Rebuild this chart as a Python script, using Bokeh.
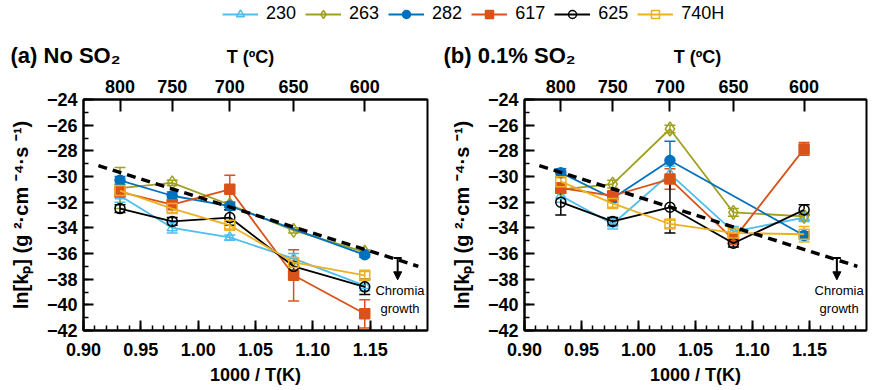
from bokeh.plotting import figure
from bokeh.layouts import column, row
from bokeh.models import (LinearAxis, FixedTicker, Range1d, ColumnDataSource, Whisker,
                          TeeHead, Arrow, NormalHead, Label, Legend, LegendItem,
                          SingleIntervalTicker, NumeralTickFormatter, CustomJSTickFormatter)
from bokeh.embed import file_html
from bokeh.resources import INLINE

# ---------------- data ----------------
TEMPS_C = [800, 750, 700, 650, 600]
ALLOYS = ["230", "263", "282", "617", "625", "740H"]

# (a) No SO2 : ln[kp]
A_230 = [-31.5, -34.0, -34.75, -36.4, -38.5]
A_263 = [-30.9, -30.5, -32.2, -34.2, -35.9]
A_282 = [-30.3, -31.5, -32.3, None, -36.1]
A_617 = [-31.2, -32.2, -31.0, -37.7, -40.7]
A_625 = [-32.5, -33.5, -33.2, -37.0, -38.6]
A_740H = [-31.1, -32.5, -33.8, -36.7, -37.7]
# (a) error bars (half widths)
EA_230 = [0.5, 0.4, 0.2, 0.4, 0.4]
EA_263 = [1.6, 0.2, 0.2, 0.2, 0.2]
EA_282 = [0.3, 0.3, 0.3, None, 0.2]
EA_617 = [0.3, 0.3, 1.1, 2.0, 1.1]
EA_625 = [0.3, 0.3, 0.6, 0.3, 0.6]
EA_740H = [0.3, 0.3, 0.3, 0.3, 0.3]

# (b) 0.1% SO2 : ln[kp]
B_230 = [-31.5, -33.7, -29.8, -34.3, -33.2]
B_263 = [-31.0, -30.6, -26.3, -32.8, -33.1]
B_282 = [-29.7, -31.7, -28.75, None, -34.6]
B_617 = [-30.9, -31.5, -30.2, -34.9, -27.85]
B_625 = [-32.0, -33.5, -32.4, -35.2, -32.6]
B_740H = [-30.4, -32.1, -33.7, -34.4, -34.5]
EB_230 = [0.5, 0.4, 0.6, 0.4, 0.3]
EB_263 = [0.3, 0.3, 0.3, 0.3, 0.3]
EB_282 = [0.3, 0.3, 1.5, None, 0.3]
EB_617 = [0.4, 0.3, 0.8, 0.4, 0.5]
EB_625 = [1.0, 0.3, 2.0, 0.3, 0.4]
EB_740H = [0.3, 0.3, 0.3, 0.3, 0.6]

# chromia-growth reference line (1000/T, ln kp)
CHROMIA_X = [0.913, 1.192]
CHROMIA_Y = [-29.15, -37.0]
ARROW_X = 1.174
ARROW_Y = [-36.35, -38.05]
CHROMIA_TEXT_XY = (1.176, -39.55)

PANEL_A = dict(zip(ALLOYS, [A_230, A_263, A_282, A_617, A_625, A_740H]))
ERR_A = dict(zip(ALLOYS, [EA_230, EA_263, EA_282, EA_617, EA_625, EA_740H]))
PANEL_B = dict(zip(ALLOYS, [B_230, B_263, B_282, B_617, B_625, B_740H]))
ERR_B = dict(zip(ALLOYS, [EB_230, EB_263, EB_282, EB_617, EB_625, EB_740H]))

# ---------------- styles ----------------
STYLE = {
    "230": dict(color="#4DBEEE", marker="triangle", fill=False, size=10),
    "263": dict(color="#A0A020", marker="diamond", fill=False, size=14),
    "282": dict(color="#0072BD", marker="circle", fill=True, size=10),
    "617": dict(color="#D95319", marker="square", fill=True, size=10),
    "625": dict(color="#000000", marker="circle", fill=False, size=10),
    "740H": dict(color="#EDB120", marker="square", fill=False, size=10),
}
FONT = "Liberation Sans"
INV_T = [1000.0 / (t + 273.15) for t in TEMPS_C]

STRIP_H = 68


def make_panel(vals, errs, width, bl, br):
    p = figure(width=width, height=390 - STRIP_H, output_backend="svg", toolbar_location=None,
               x_range=Range1d(0.90, 1.20), y_range=Range1d(-42, -24),
               min_border_left=bl, min_border_right=br, min_border_top=99 - STRIP_H,
               min_border_bottom=60)
    p.xgrid.visible = False
    p.ygrid.visible = False
    p.outline_line_color = "black"
    p.outline_line_width = 2
    p.outline_line_alpha = 1

    xa = p.xaxis[0]
    xa.ticker = SingleIntervalTicker(interval=0.05, num_minor_ticks=5)
    xa.formatter = NumeralTickFormatter(format="0.00")
    xa.axis_label = "1000 / T(K)"
    ya = p.yaxis[0]
    ya.ticker = SingleIntervalTicker(interval=2, num_minor_ticks=2)
    ya.axis_label = "ln[kₚ] (g ²·cm ⁻⁴·s ⁻¹)"

    top = LinearAxis(ticker=FixedTicker(ticks=INV_T),
                     formatter=CustomJSTickFormatter(code="return String(Math.round(1000/tick - 273.15));"))
    p.add_layout(top, "above")

    for ax in (xa, ya, top):
        ax.axis_line_width = 2
        ax.major_tick_line_width = 2
        ax.minor_tick_line_width = 1.5
        ax.major_tick_out = 0
        ax.minor_tick_out = 0
        ax.major_tick_in = 10
        ax.minor_tick_in = 5
        ax.major_label_text_font = FONT
        ax.major_label_text_font_style = "bold"
        ax.major_label_text_font_size = "18px"
        ax.major_label_text_color = "black"
        ax.axis_label_text_font = FONT
        ax.axis_label_text_font_style = "bold"
        ax.axis_label_text_font_size = "18px"
        ax.axis_label_text_color = "black"
    ya.axis_label_text_font_size = "20px"
    top.major_tick_in = 12
    xa.major_label_standoff = 12
    xa.axis_label_standoff = 6
    top.major_label_standoff = 7
    ya.major_label_standoff = 6
    ya.axis_label_standoff = 12

    for alloy in ALLOYS:
        st = STYLE[alloy]
        xs, ys, lo, hi = [], [], [], []
        for x, y, e in zip(INV_T, vals[alloy], errs[alloy]):
            if y is None:
                continue
            xs.append(x)
            ys.append(y)
            lo.append(y - e)
            hi.append(y + e)
        src = ColumnDataSource(dict(x=xs, y=ys, lower=lo, upper=hi))
        p.line("x", "y", source=src, line_color=st["color"], line_width=1.8)
        w = Whisker(base="x", lower="lower", upper="upper", source=src,
                    line_color=st["color"], line_width=1.5,
                    upper_head=TeeHead(size=11, line_color=st["color"], line_width=1.5),
                    lower_head=TeeHead(size=11, line_color=st["color"], line_width=1.5))
        p.add_layout(w)
        p.scatter("x", "y", source=src, marker=st["marker"], size=st["size"],
                  line_color=st["color"], line_width=1.5,
                  fill_color=st["color"] if st["fill"] else "white",
                  fill_alpha=1.0 if st["fill"] else 0.0)

    p.line(CHROMIA_X, CHROMIA_Y, line_color="black", line_width=3.5, line_dash="9 6")
    p.add_layout(Arrow(x_start=ARROW_X, y_start=ARROW_Y[0], x_end=ARROW_X, y_end=ARROW_Y[1],
                       line_width=2, line_color="black",
                       start=TeeHead(size=8, line_width=2, line_color="black"),
                       end=NormalHead(size=8, fill_color="black", line_color="black")))
    p.add_layout(Label(x=CHROMIA_TEXT_XY[0], y=CHROMIA_TEXT_XY[1], text="Chromia\ngrowth",
                       text_align="center", text_baseline="middle", text_font=FONT,
                       text_font_size="13px", text_color="black"))
    return p


pa = make_panel(PANEL_A, ERR_A, 440, 83, 13)
pb = make_panel(PANEL_B, ERR_B, 452, 84, 26)

# header strip: legend, panel titles and the top-axis titles (pixel-like ranges, y downward)
head = figure(width=892, height=STRIP_H, output_backend="svg", toolbar_location=None,
              x_range=Range1d(0, 892), y_range=Range1d(STRIP_H, 0), min_border=0)
head.axis.visible = False
head.xgrid.visible = False
head.ygrid.visible = False
head.outline_line_color = None

HEAD_TEXTS = [
    ("(a) No SO₂", 10, 55, "left", "22px"),
    ("(b) 0.1% SO₂", 443, 55, "left", "22px"),
    ("T (ºC)", 250, 56, "center", "18px"),
    ("T (ºC)", 697, 56, "center", "18px"),
]
for txt, hx, hy, al, fs in HEAD_TEXTS:
    head.add_layout(Label(x=hx, y=hy, text=txt, text_align=al, text_baseline="middle",
                          text_font=FONT, text_font_style="bold", text_font_size=fs,
                          text_color="black"))

items = []
for alloy in ALLOYS:
    st = STYLE[alloy]
    r1 = head.line([-50, -40], [-50, -40], line_color=st["color"], line_width=1.8)
    r2 = head.scatter([-50], [-50], marker=st["marker"], size=st["size"], line_color=st["color"],
                      line_width=1.5, fill_color=st["color"] if st["fill"] else "white",
                      fill_alpha=1.0 if st["fill"] else 0.0)
    items.append(LegendItem(label=alloy, renderers=[r1, r2]))
legend = Legend(items=items, orientation="horizontal", location=(222, STRIP_H - 24),
                glyph_width=36, glyph_height=20, label_standoff=8, spacing=9,
                padding=0, margin=0, border_line_alpha=0, background_fill_alpha=0,
                label_text_font=FONT, label_text_font_size="18px", label_text_color="black")
head.add_layout(legend)

layout = column(head, row(pa, pb))
open("out.html", "w").write(file_html(layout, INLINE))
